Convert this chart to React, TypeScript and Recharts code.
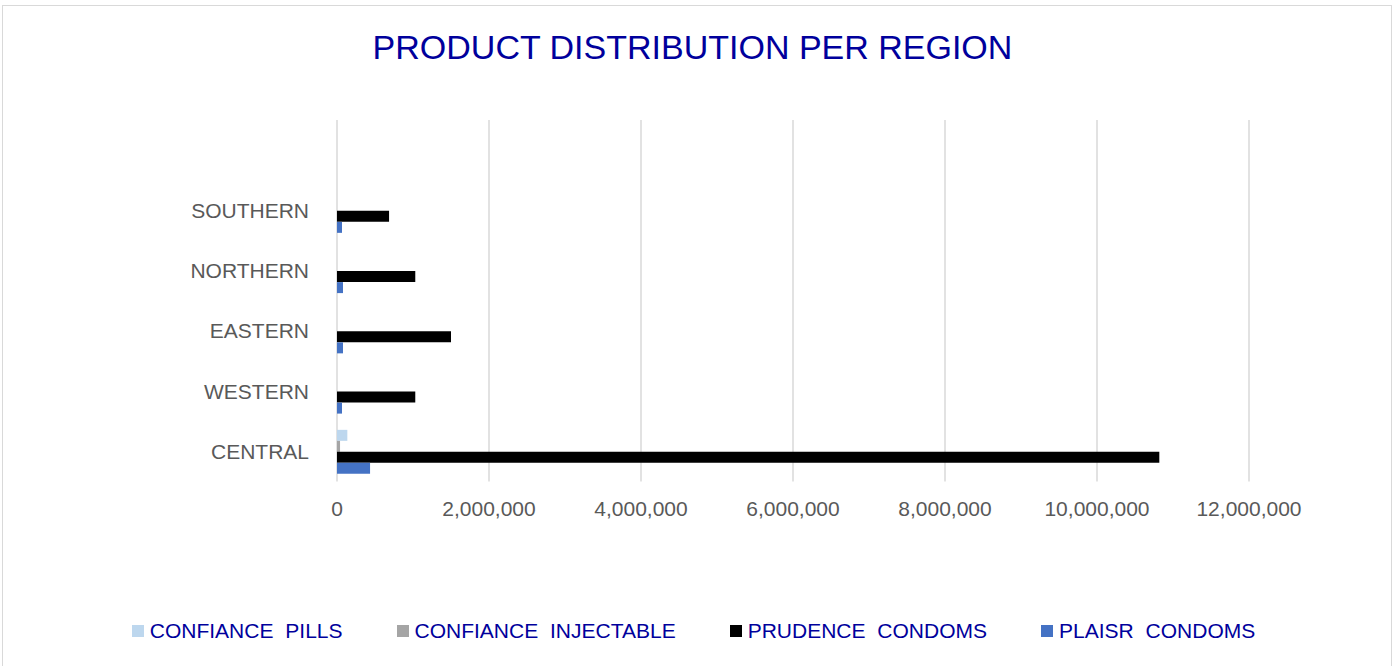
import { BarChart, Bar, XAxis, YAxis, CartesianGrid, Legend } from "recharts";

// top row is an empty slot, like the blank row in the source sheet
const regions = ["", "SOUTHERN", "NORTHERN", "EASTERN", "WESTERN", "CENTRAL"];
const confiancePills = [null, 0, 0, 0, 0, 136000];
const confianceInjectable = [null, 0, 0, 0, 0, 40000];
const prudenceCondoms = [null, 685000, 1030000, 1500000, 1030000, 10820000];
const plaisrCondoms = [null, 66000, 79000, 79000, 66000, 435000];

const xTicks = [0, 2000000, 4000000, 6000000, 8000000, 10000000, 12000000];

const seriesNames = [
  "CONFIANCE PILLS",
  "CONFIANCE INJECTABLE",
  "PRUDENCE CONDOMS",
  "PLAISR CONDOMS",
];
const seriesKeys = ["pills", "injectable", "prudence", "plaisr"];
const seriesColors = ["#BDD7EE", "#A5A5A5", "#000000", "#4472C4"];

const data = regions.map((region, i) => ({
  region,
  pills: confiancePills[i],
  injectable: confianceInjectable[i],
  prudence: prudenceCondoms[i],
  plaisr: plaisrCondoms[i],
}));

const FONT = "'Liberation Sans', Arial, sans-serif";
const BLUE_TEXT = "#00009C";

// keep the series order of the sheet, not the alphabetical one
function LegendRow() {
  return (
    <div
      style={{
        display: "flex",
        justifyContent: "center",
        alignItems: "center",
        gap: 54,
        height: 30,
        fontFamily: FONT,
        fontSize: 21,
        color: BLUE_TEXT,
        wordSpacing: 6,
        paddingRight: 8,
      }}
    >
      {seriesNames.map((name, i) => (
        <div key={name} style={{ display: "flex", alignItems: "center" }}>
          <span
            style={{
              width: 12,
              height: 12,
              background: seriesColors[i],
              display: "inline-block",
              marginRight: 6,
            }}
          />
          <span>{name}</span>
        </div>
      ))}
    </div>
  );
}

export default function App() {
  return (
    <div style={{ position: "absolute", left: 0, top: 0, width: 1395, height: 666, background: "#fff" }}>
      <div
        style={{
          position: "absolute",
          left: 2,
          top: 5,
          width: 1390,
          height: 670,
          border: "1px solid #d9d9d9",
          boxSizing: "border-box",
        }}
      />
      <div
        style={{
          position: "absolute",
          left: -5,
          width: 1395,
          top: 27,
          textAlign: "center",
          fontFamily: FONT,
          fontSize: 34,
          color: BLUE_TEXT,
          lineHeight: "40px",
        }}
      >
        PRODUCT DISTRIBUTION PER REGION
      </div>
      <div style={{ position: "absolute", left: 0, top: 0 }}>
        <BarChart
          width={1395}
          height={666}
          data={data}
          layout="vertical"
          margin={{ top: 120, right: 146, bottom: 20, left: 0 }}
          barCategoryGap={8.6}
          barGap={0}
        >
          <CartesianGrid horizontal={false} stroke="#d9d9d9" strokeWidth={1.5} />
          <XAxis
            type="number"
            domain={[0, 12000000]}
            ticks={xTicks}
            tickFormatter={(v: number) => v.toLocaleString("en-US")}
            axisLine={false}
            tickLine={false}
            tickSize={0}
            tickMargin={20}
            height={134.5}
            tick={{ fontSize: 21, fill: "#595959", fontFamily: FONT }}
          />
          <YAxis
            type="category"
            dataKey="region"
            width={337}
            axisLine={false}
            tickLine={false}
            tickSize={0}
            tickMargin={28}
            interval={0}
            tick={{ fontSize: 21, fill: "#595959", fontFamily: FONT }}
          />
          <Legend
            verticalAlign="bottom"
            content={<LegendRow />}
            wrapperStyle={{ left: 0, width: 1395 }}
          />
          {seriesKeys.map((key, i) => (
            <Bar
              key={key}
              dataKey={key}
              name={seriesNames[i]}
              fill={seriesColors[i]}
              isAnimationActive={false}
            />
          ))}
        </BarChart>
      </div>
    </div>
  );
}
